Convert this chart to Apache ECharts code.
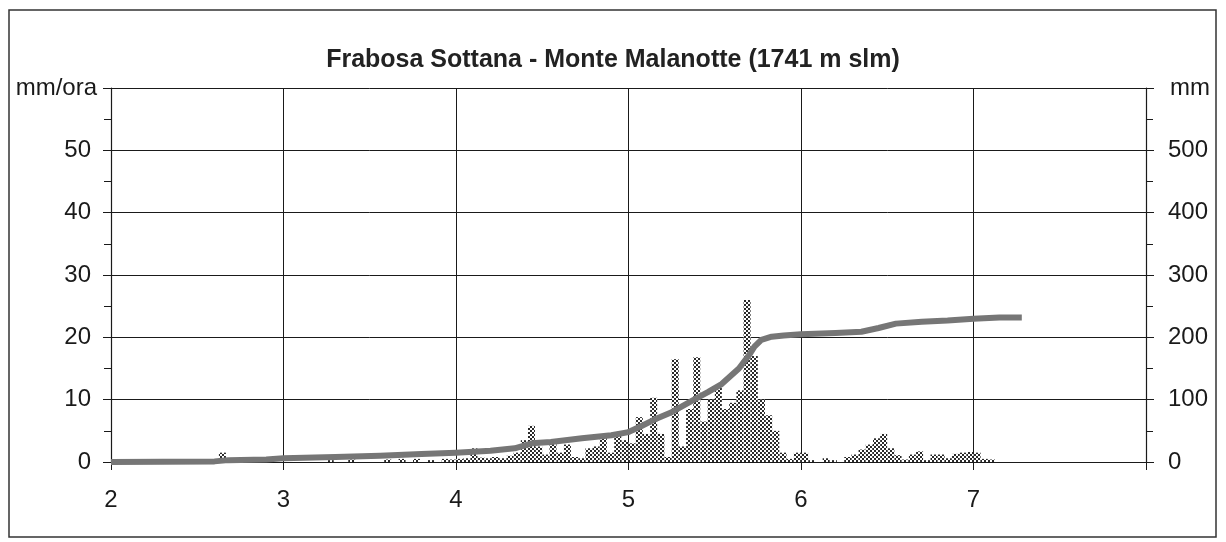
<!DOCTYPE html>
<html>
<head>
<meta charset="utf-8">
<script src="https://cdn.jsdelivr.net/npm/echarts@6/dist/echarts.min.js"></script>
<style>
  html, body { margin: 0; padding: 0; background: #fff; }
  #chart { width: 1226px; height: 542px; }
</style>
</head>
<body>
<div id="chart"></div>
<script>
// hourly rain (mm/ora), one row per day, starting at day 2 00:00
const rainHourly = [
  0, 0, 0, 0, 0, 0, 0, 0, 0, 0, 0, 0, 0, 0, 0, 1.5, 0, 0, 0, 0, 0.8, 0, 0, 0,
  0, 0, 0, 0, 0, 0, 0.3, 0, 0, 0.4, 0, 0, 0, 0, 0.4, 0, 0.5, 0, 0.5, 0, 0.3, 0, 0.5, 0.4,
  0.5, 0.6, 2.2, 0.7, 0.6, 0.8, 0.6, 1.0, 1.5, 3.5, 5.8, 2.5, 1.2, 3.4, 1.5, 2.8, 0.8, 0.6, 2.2, 2.5, 4.2, 1.5, 4.8, 3.5,
  3.0, 7.2, 4.5, 10.3, 4.5, 0.8, 16.5, 2.5, 8.5, 16.8, 6.5, 10.0, 12.0, 8.5, 9.5, 11.5, 26.0, 17.0, 10.0, 7.5, 5.0, 1.5, 0.5, 1.5,
  1.5, 0.3, 0, 0.6, 0.3, 0, 0.8, 1.2, 2.0, 2.8, 3.8, 4.5, 2.2, 1.1, 0.4, 1.2, 1.7, 0.3, 1.2, 1.2, 0.6, 1.3, 1.5, 1.6,
  1.5, 0.5, 0.4
];
const startDay = 2;

// cumulated rain (mm)
const cumDays = [2.0, 2.6, 2.68, 2.9, 3.0, 3.3, 3.56, 3.8, 4.0, 4.2, 4.34, 4.44, 4.55, 4.73, 4.9, 5.0, 5.07, 5.15, 5.25, 5.38, 5.46, 5.54, 5.64, 5.70, 5.73, 5.77, 5.83, 5.9, 6.0, 6.2, 6.35, 6.45, 6.55, 6.7, 6.85, 7.0, 7.15, 7.28];
const cumMm = [0, 1, 3, 4, 6, 8, 10, 13, 15, 18, 22, 30, 32, 38, 43, 48, 57, 68, 80, 100, 112, 125, 150, 172, 185, 196, 201, 203, 205, 207, 209, 215, 222, 225, 227, 230, 232, 232];

const xTicks = [2, 3, 4, 5, 6, 7];
const font = 'Liberation Sans, Arial, Helvetica, sans-serif';

// dotted fill like the printed bars
const pat = document.createElement('canvas');
pat.width = 4; pat.height = 4;
const pctx = pat.getContext('2d');
pctx.fillStyle = '#ffffff';
pctx.fillRect(0, 0, 4, 4);
pctx.fillStyle = '#2a2a2a';
pctx.fillRect(0, 0, 2, 2);
pctx.fillRect(2, 2, 2, 2);

const barData = rainHourly.map((v, i) => [startDay + (i + 0.5) / 24, v]);
const lineData = cumDays.map((d, i) => [d, cumMm[i]]);

const myChart = echarts.init(document.getElementById('chart'));
const option = {
  backgroundColor: '#fff',
  animation: false,
  textStyle: { fontFamily: font },
  title: {
    text: 'Frabosa Sottana - Monte Malanotte (1741 m slm)',
    left: 'center',
    top: 43,
    textStyle: { fontFamily: font, fontSize: 25, fontWeight: 'bold', color: '#222' }
  },
  graphic: [
    {
      type: 'rect',
      shape: { x: 9, y: 10, width: 1207, height: 527 },
      style: { fill: 'none', stroke: '#333', lineWidth: 1.5 },
      silent: true
    }
  ],
  grid: { left: 111, right: 80, top: 88, bottom: 80 },
  xAxis: {
    type: 'value',
    min: 2,
    max: 8,
    interval: 1,
    axisLine: { lineStyle: { color: '#1a1a1a', width: 1.2 } },
    axisTick: { show: true, length: 8, lineStyle: { color: '#1a1a1a' } },
    axisLabel: {
      margin: 26,
      fontSize: 24,
      color: '#1a1a1a',
      formatter: v => (xTicks.indexOf(v) >= 0 ? String(v) : '')
    },
    splitLine: { show: true, lineStyle: { color: '#1a1a1a', width: 1 } }
  },
  yAxis: [
    {
      type: 'value',
      min: 0,
      max: 60,
      interval: 10,
      name: 'mm/ora',
      nameLocation: 'end',
      nameGap: 0,
      nameTextStyle: { fontSize: 24, color: '#1a1a1a', align: 'right', verticalAlign: 'middle', padding: [0, 14, 0, 0] },
      axisLine: { show: true, lineStyle: { color: '#1a1a1a', width: 1.2 } },
      axisTick: { show: true, length: 8, lineStyle: { color: '#1a1a1a' } },
      minorTick: { show: true, splitNumber: 2, length: 7, lineStyle: { color: '#1a1a1a' } },
      axisLabel: {
        margin: 20,
        fontSize: 24,
        color: '#1a1a1a',
        formatter: v => (v < 60 ? String(v) : '')
      },
      splitLine: { show: true, lineStyle: { color: '#1a1a1a', width: 1 } }
    },
    {
      type: 'value',
      min: 0,
      max: 600,
      interval: 100,
      name: 'mm',
      nameLocation: 'end',
      nameGap: 0,
      nameTextStyle: { fontSize: 24, color: '#1a1a1a', align: 'left', verticalAlign: 'middle', padding: [0, 0, 0, 24] },
      axisLine: { show: true, lineStyle: { color: '#1a1a1a', width: 1.2 } },
      axisTick: { show: true, length: 8, lineStyle: { color: '#1a1a1a' } },
      minorTick: { show: true, splitNumber: 2, length: 7, lineStyle: { color: '#1a1a1a' } },
      axisLabel: {
        margin: 22,
        fontSize: 24,
        color: '#1a1a1a',
        formatter: v => (v < 600 ? String(v) : '')
      },
      splitLine: { show: false }
    }
  ],
  series: [
    {
      name: 'mm/ora',
      type: 'bar',
      yAxisIndex: 0,
      barWidth: 7,
      itemStyle: { color: { image: pat, repeat: 'repeat' } },
      data: barData,
      z: 2
    },
    {
      name: 'mm',
      type: 'line',
      yAxisIndex: 1,
      symbol: 'none',
      lineStyle: { color: '#767676', width: 6, cap: 'butt', join: 'round' },
      data: lineData,
      z: 3
    }
  ]
};
myChart.setOption(option);
</script>
</body>
</html>
